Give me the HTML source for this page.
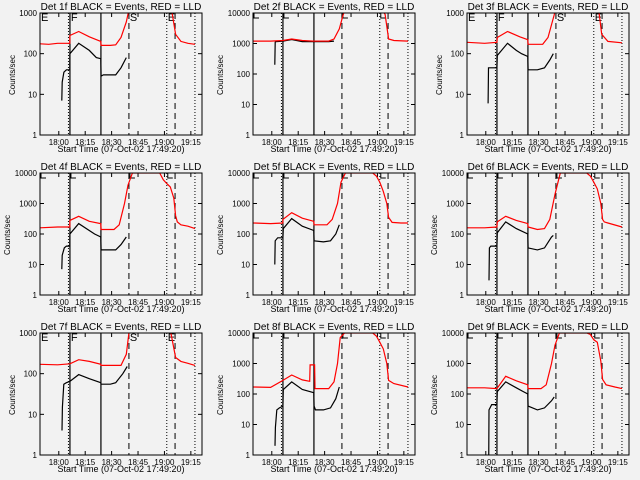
<!DOCTYPE html>
<html><head><meta charset="utf-8"><style>
html,body{margin:0;padding:0;background:#f2f2f2;}
svg{display:block;font-family:"Liberation Sans",sans-serif;}
</style></head><body>
<svg id="chart" width="640" height="480" viewBox="0 0 640 480"></svg>
<script>
const panelLabels = ["1f","2f","3f","4f","5f","6f","7f","8f","9f"];
const panelDecades = [3,4,3,4,4,4,3,4,4];
const xTickLabels = ["18:00","18:15","18:30","18:45","19:00","19:15"];
const xTickMinutes = [10.67,25.67,40.67,55.67,70.67,85.67];
const markerMinutes = [17,34.6,50.5,72,76.7,88];
const redTimes = [
 [0,5,10,16.9,17,22,28,34.5,34.7,40,43,46,49,51,73.5,75,77,80,84,88],
 [0,10,17,22,28,34,43,46,49,51,52,73.5,75,77,80,88],
 [0,10,17,17.2,23,30,34.5,34.7,43,46,49.5,50.5,73.5,75,76.5,80,88],
 [0,10,16.9,17,22,28,34.5,34.7,42,45,48,50,52.5,55,60,68,70,72,74,76,77,78,80,84,88],
 [0,10,16.9,17,22,28,34.5,34.7,42,45,48,50,52.5,68,70,72,74,76,77,79,84,88],
 [0,10,17,17.2,22,28,34.5,34.7,40,44,47,50,53,68,70,72,74,76,77,78,80,88],
 [0,10,17,22,28,34.5,34.7,43,46,49,51,73.5,75,77,80,84,88],
 [0,10,17,22,28,32.2,32.4,35,35.2,43,46,48,49.5,52,68,70,72,74,76,77,80,88],
 [0,10,17,22,28,34.5,34.7,42,45,48,50,52.5,68,70,72,74,76,77,79,84,88]
];
const redVals = [
 [175,170,180,180,280,350,260,200,160,160,165,250,600,1500,1500,1000,300,200,180,170],
 [1200,1200,1250,1400,1250,1200,1200,1400,3000,8000,12000,12000,9000,1400,1250,1200],
 [190,180,190,250,350,260,220,170,170,250,900,1500,1500,1000,300,200,185],
 [160,170,170,280,380,260,220,140,140,200,1000,4000,10000,10000,10000,10000,6000,4500,3500,1500,400,250,200,180,150],
 [230,220,230,300,500,330,260,200,200,300,1000,5000,10000,10000,8000,5000,2500,1000,350,240,230,230],
 [160,160,170,250,380,280,220,170,140,150,300,2000,10000,10000,8000,5000,3000,1000,300,250,230,170],
 [170,165,175,220,200,170,160,160,160,300,1500,1500,700,250,200,180,160],
 [170,165,280,420,290,260,900,900,150,150,250,1000,7000,10000,10000,8000,5000,3000,1000,280,220,170],
 [160,160,150,380,270,200,150,150,200,1000,4000,10000,10000,9000,6000,5000,1200,300,200,170,150]
];
const blackTimes = [
 [12.4,12.6,13.6,15,16.9,17,22,28,32,34.5,34.7,36,43,46,49],
 [12.4,12.6,13,17,22,28,34,43,46],
 [12,12.2,15.5,17,17.2,23,28,31,34.5,34.7,40,44,47,49],
 [12.4,12.6,13.8,15,16.9,17,22,31,34.5,34.7,43,46,49],
 [12.4,12.6,14,17,17.2,22,28,34.5,34.7,40,44,47,49],
 [12.5,12.7,13.5,17,17.2,22,28,34.5,34.7,40,44,48,49],
 [12.5,12.7,13.5,15,17,22,28,34.5,34.7,40,43,47,49.5],
 [12.5,12.7,13.5,15,17,17.2,22,28,34.5,34.7,35.5,40,44,47,49],
 [12.3,12.5,14,17,17.2,22,28,32,34.5,34.7,40,44,48,49.5]
];
const blackVals = [
 [7,20,35,40,40,100,180,120,80,75,28,30,30,45,80],
 [200,1100,1150,1200,1350,1150,1150,1150,1200],
 [6,45,45,45,90,180,120,100,85,40,40,45,70,100],
 [7,20,35,40,40,100,220,100,80,30,30,45,80],
 [10,60,75,75,150,320,180,130,60,55,60,100,200],
 [3,35,40,40,110,250,150,100,35,30,35,80,90],
 [4,15,55,60,65,95,75,60,55,55,60,100,150],
 [2,8,30,35,40,140,250,140,110,40,30,30,35,70,170],
 [0.5,30,45,45,120,250,160,120,100,40,30,35,60,80]
];
const NS="http://www.w3.org/2000/svg";
const svg=document.getElementById('chart');
function mk(tag,attrs,parent){const e=document.createElementNS(NS,tag);for(const k in attrs)e.setAttribute(k,attrs[k]);(parent||svg).appendChild(e);return e;}
const colOff=[0,213,427], rowOff=[0,160,320];
const BL=40,BR=202,BT=13,BB=135,TMAX=92;
for(let p=0;p<9;p++){
  const ox=colOff[p%3], oy=rowOff[Math.floor(p/3)];
  const dec=panelDecades[p];
  const g=mk('g',{transform:`translate(${ox},${oy})`});
  
  
  const xs=t=>BL+t*(BR-BL)/TMAX;
  const ys=v=>BB-Math.log10(v)/dec*(BB-BT);
  const cid='clip'+p;
  const cp=mk('clipPath',{id:cid},g);mk('rect',{x:BL,y:BT,width:BR-BL,height:BB-BT},cp);
  // title
  const ti=mk('text',{x:121,y:10,'font-size':10,'text-anchor':'middle',fill:'#000'},g);
  ti.textContent='Det '+panelLabels[p]+' BLACK = Events, RED = LLD';
  
  
  // y title
  const yt=mk('text',{x:0,y:0,'font-size':8,'text-anchor':'middle',transform:`translate(${dec==4?10:15},75) rotate(-90)`},g);
  yt.textContent='Counts/sec';
  
  
  // x title
  const xt=mk('text',{x:121,y:152,'font-size':9,'text-anchor':'middle'},g);
  xt.textContent='Start Time (07-Oct-02 17:49:20)';
  
  
  // y ticks
  for(let d=0;d<=dec;d++){
    const y=ys(Math.pow(10,d));
    mk('line',{x1:BL,x2:BL+4,y1:y,y2:y,stroke:'#000'},g);
    mk('line',{x1:BR-4,x2:BR,y1:y,y2:y,stroke:'#000'},g);
    const tl=mk('text',{x:BL-3,y:y+3,'font-size':8,'text-anchor':'end'},g);
    tl.textContent=String(Math.pow(10,d));
    
    
  }
  // x ticks
  for(let i=0;i<xTickMinutes.length;i++){
    const x=xs(xTickMinutes[i]);
    mk('line',{x1:x,x2:x,y1:BB,y2:BB-4,stroke:'#000'},g);
    mk('line',{x1:x,x2:x,y1:BT,y2:BT+4,stroke:'#000'},g);
    const tl=mk('text',{x:x,y:BB+10,'font-size':8,'text-anchor':'middle'},g);
    tl.textContent=xTickLabels[i];
    
    
  }
  // markers
  const styles=[['',1.2],['',1.2],['6,4',1],['1,2',1],['6,4',1],['1,2',1]];
  for(let i=0;i<markerMinutes.length;i++){
    const x=xs(markerMinutes[i]);
    const l=mk('line',{x1:x,x2:x,y1:BT,y2:BB,stroke:'#000','stroke-width':styles[i][1]},g);
    if(styles[i][0])l.setAttribute('stroke-dasharray',styles[i][0]);
    
    
  }
  mk('line',{x1:xs(17)-1.5,x2:xs(17)-1.5,y1:BT,y2:BB,stroke:'#000','stroke-dasharray':'1,2'},g);
  const letters=[['E',BL+1],['F',xs(17)+1],['S',xs(50.5)+1],['E',xs(72)+1]];
  letters.forEach(([ch,x])=>{
    if(dec==3){const t=mk('text',{x:x,y:BT+8,'font-size':11},g);t.textContent=ch;
      
      }
    else mk('path',{d:`M${x} ${BT} V${BT+5} H${x+5}`,fill:'none',stroke:'#000'},g);
  });
  // series
  const gs=mk('g',{'clip-path':`url(#${cid})`},g);
  const bp=blackTimes[p].map((t,i)=>xs(t).toFixed(1)+','+ys(blackVals[p][i]).toFixed(1)).join(' ');
  const bl=mk('polyline',{points:bp,fill:'none',stroke:'#000','stroke-width':1.2},gs);
  
  
  const rp=redTimes[p].map((t,i)=>xs(t).toFixed(1)+','+ys(redVals[p][i]).toFixed(1)).join(' ');
  const rl=mk('polyline',{points:rp,fill:'none',stroke:'#ff0000','stroke-width':1.2},gs);
  
  
  mk('rect',{x:BL,y:BT,width:BR-BL,height:BB-BT,fill:'none',stroke:'#000'},g);
}
</script>
</body></html>
